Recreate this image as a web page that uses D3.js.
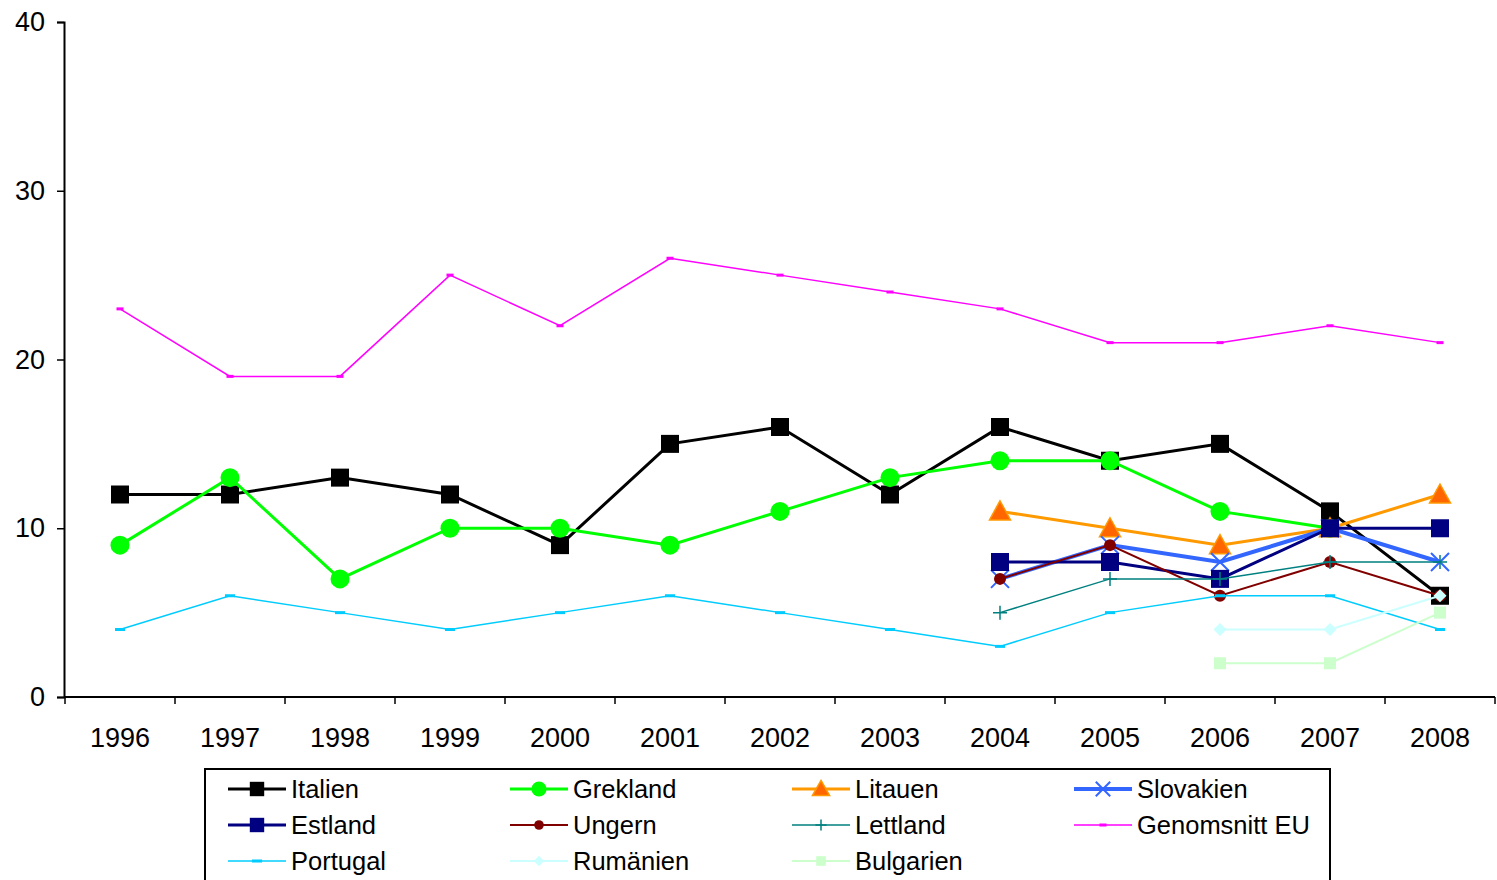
<!DOCTYPE html>
<html><head><meta charset="utf-8">
<script src="https://cdn.jsdelivr.net/npm/d3@7"></script>
<style>body{margin:0;background:#fff}svg{display:block}text{font-family:"Liberation Sans",Arial,sans-serif}</style>
</head><body><svg id="c" width="1497" height="880"></svg>
<script>
const years = ["1996","1997","1998","1999","2000","2001","2002","2003","2004","2005","2006","2007","2008"];
const yTicks = [0,10,20,30,40];
const italien   = [12,12,13,12,9,15,16,12,16,14,15,11,6];
const grekland  = [9,13,7,10,10,9,11,13,14,14,11,10,null];
const litauen   = [null,null,null,null,null,null,null,null,11,10,9,10,12];
const slovakien = [null,null,null,null,null,null,null,null,7,9,8,10,8];
const estland   = [null,null,null,null,null,null,null,null,8,8,7,10,10];
const ungern    = [null,null,null,null,null,null,null,null,7,9,6,8,6];
const lettland  = [null,null,null,null,null,null,null,null,5,7,7,8,8];
const eu        = [23,19,19,25,22,26,25,24,23,21,21,22,21];
const portugal  = [4,6,5,4,5,6,5,4,3,5,6,6,4];
const rumanien  = [null,null,null,null,null,null,null,null,null,null,4,4,6];
const bulgarien = [null,null,null,null,null,null,null,null,null,null,2,2,5];

const series = [
  {name:"Italien", values:italien, color:"#000000", width:3, marker:"square", size:18, fill:"#000000"},
  {name:"Grekland", values:grekland, color:"#00FF00", width:3, marker:"circle", size:19, fill:"#00FF00"},
  {name:"Litauen", values:litauen, color:"#FF9900", width:3, marker:"triangle", size:19, fill:"#FF6600"},
  {name:"Slovakien", values:slovakien, color:"#3366FF", width:4, marker:"x", size:18, fill:"none"},
  {name:"Estland", values:estland, color:"#000080", width:3, marker:"square", size:18, fill:"#000080"},
  {name:"Ungern", values:ungern, color:"#800000", width:2, marker:"circle", size:12, fill:"#800000"},
  {name:"Lettland", values:lettland, color:"#008080", width:1.5, marker:"plus", size:14, fill:"none"},
  {name:"Genomsnitt EU", values:eu, color:"#FF00FF", width:1.5, marker:"dash", size:7, fill:"#FF00FF"},
  {name:"Portugal", values:portugal, color:"#00CCFF", width:1.5, marker:"dash", size:10, fill:"#00CCFF"},
  {name:"Rumänien", values:rumanien, color:"#CCFFFF", width:2, marker:"diamond", size:13, fill:"#CCFFFF"},
  {name:"Bulgarien", values:bulgarien, color:"#CCFFCC", width:2, marker:"square", size:12, fill:"#CCFFCC"}
];

const svg = d3.select("#c");
const x = d3.scaleBand().domain(years).range([65,1495]).padding(0);
const y = d3.scaleLinear().domain([0,40]).range([697,22]);

// axes
const yAxis = d3.axisLeft(y).tickValues(yTicks).tickSize(7).tickPadding(12);
const gy = svg.append("g").attr("transform","translate(64,0)").call(yAxis);
gy.select(".domain").attr("stroke","#000").attr("stroke-width",2);
gy.selectAll(".tick line").attr("stroke","#000").attr("stroke-width",1.5);
gy.selectAll("text").attr("font-size",27).attr("fill","#000");

const gx = svg.append("g").attr("transform","translate(0,697)");
gx.append("line").attr("x1",64).attr("x2",1495).attr("stroke","#000").attr("stroke-width",2);
const bounds = years.map(d=>x(d)).concat([x(years[years.length-1])+x.bandwidth()]);
gx.selectAll("line.t").data(bounds).enter().append("line").attr("class","t")
  .attr("x1",d=>d).attr("x2",d=>d).attr("y1",0).attr("y2",7).attr("stroke","#000").attr("stroke-width",1.5);
gx.selectAll("text").data(years).enter().append("text")
  .attr("x",d=>x(d)+x.bandwidth()/2).attr("y",50).attr("text-anchor","middle")
  .attr("font-size",27).attr("fill","#000").text(d=>d);

function drawMarker(g, s, cx, cy, scale){
  const k = scale||1, sz = s.size*k;
  if(s.marker==="square"){
    g.append("rect").attr("x",cx-sz/2).attr("y",cy-sz/2).attr("width",sz).attr("height",sz).attr("fill",s.fill);
  } else if(s.marker==="circle"){
    g.append("circle").attr("cx",cx).attr("cy",cy).attr("r",sz/2).attr("fill",s.fill);
  } else if(s.marker==="triangle"){
    g.append("path").attr("d",`M${cx},${cy-sz/2-1}L${cx+sz/2+1},${cy+sz/2-1}L${cx-sz/2-1},${cy+sz/2-1}Z`)
      .attr("fill",s.fill).attr("stroke",s.color).attr("stroke-width",1.5);
  } else if(s.marker==="x"){
    const h=sz/2;
    g.append("path").attr("d",`M${cx-h},${cy-h}L${cx+h},${cy+h}M${cx-h},${cy+h}L${cx+h},${cy-h}`)
      .attr("stroke",s.color).attr("stroke-width",2).attr("fill","none");
  } else if(s.marker==="plus"){
    const h=sz/2;
    g.append("path").attr("d",`M${cx-h},${cy}L${cx+h},${cy}M${cx},${cy-h}L${cx},${cy+h}`)
      .attr("stroke",s.color).attr("stroke-width",1.5).attr("fill","none");
  } else if(s.marker==="dash"){
    g.append("rect").attr("x",cx-sz/2).attr("y",cy-1.5).attr("width",sz).attr("height",3).attr("fill",s.fill);
  } else if(s.marker==="diamond"){
    const h=sz/2;
    g.append("path").attr("d",`M${cx},${cy-h}L${cx+h},${cy}L${cx},${cy+h}L${cx-h},${cy}Z`).attr("fill",s.fill);
  }
}

const line = d3.line().defined(d=>d[1]!=null).x(d=>x(d[0])+x.bandwidth()/2).y(d=>y(d[1]));
series.forEach(s=>{
  const g = svg.append("g");
  const pts = years.map((yr,i)=>[yr,s.values[i]]);
  g.append("path").attr("d",line(pts)).attr("fill","none").attr("stroke",s.color)
    .attr("stroke-width",s.width).attr("stroke-linejoin","miter");
  pts.filter(p=>p[1]!=null).forEach(p=>drawMarker(g,s,x(p[0])+x.bandwidth()/2,y(p[1])));
});

// legend
const lg = svg.append("g");
lg.append("rect").attr("x",205).attr("y",769).attr("width",1125).attr("height",130)
  .attr("fill","#fff").attr("stroke","#000").attr("stroke-width",2);
const colX = [228,510,792,1074], rowY = [789,825,861];
series.forEach((s,i)=>{
  const cx = colX[i%4], cy = rowY[Math.floor(i/4)];
  const g = lg.append("g");
  g.append("line").attr("x1",cx).attr("x2",cx+58).attr("y1",cy).attr("y2",cy)
    .attr("stroke",s.color).attr("stroke-width",s.width);
  drawMarker(g,s,cx+29,cy,s.marker==="dash"?1:0.8);
  g.append("text").attr("x",cx+63).attr("y",cy+9).attr("font-size",25.5).attr("fill","#000").text(s.name);
});
</script></body></html>
